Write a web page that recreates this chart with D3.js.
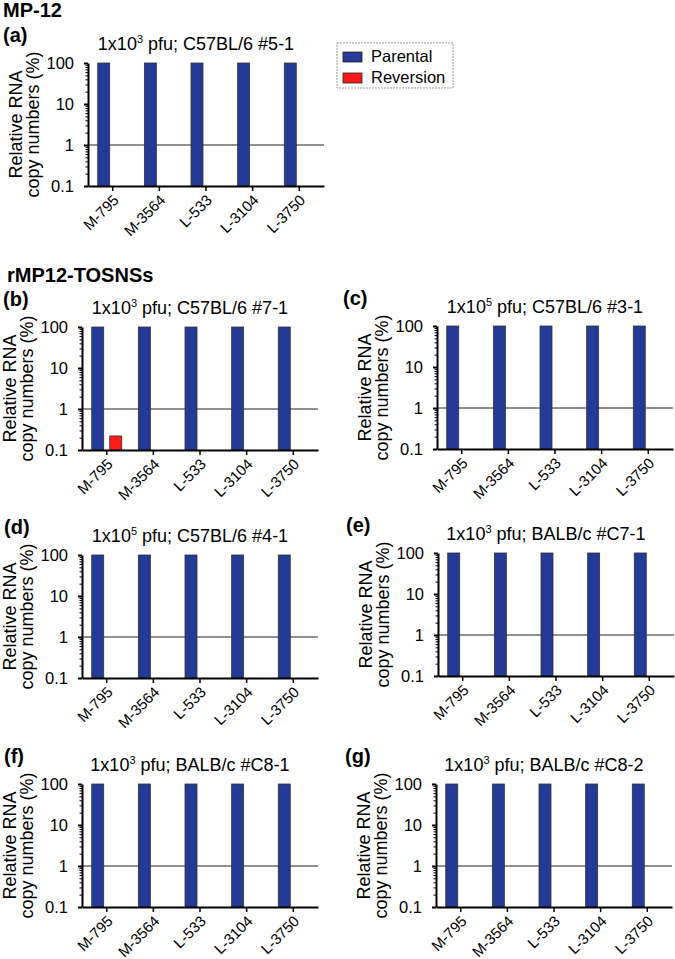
<!DOCTYPE html>
<html><head><meta charset="utf-8">
<script src="https://cdn.jsdelivr.net/npm/d3@7"></script>
<style>body{margin:0;background:#fff}svg{display:block}text{font-family:Arial,"Liberation Sans",Helvetica,sans-serif;fill:#000}</style>
</head><body>
<script>
const categories = ["M-795", "M-3564", "L-533", "L-3104", "L-3750"];
const panelIds = ["a", "b", "c", "d", "e", "f", "g"];
const doseExp = [3, 3, 5, 5, 3, 3, 3];
const hosts = ["C57BL/6 #5-1", "C57BL/6 #7-1", "C57BL/6 #3-1", "C57BL/6 #4-1", "BALB/c #C7-1", "BALB/c #C8-1", "BALB/c #C8-2"];
const parental = [
  [100, 100, 100, 100, 100],
  [100, 100, 100, 100, 100],
  [100, 100, 100, 100, 100],
  [100, 100, 100, 100, 100],
  [100, 100, 100, 100, 100],
  [100, 100, 100, 100, 100],
  [100, 100, 100, 100, 100]
];
const reversion = [
  [null, null, null, null, null],
  [0.22, null, null, null, null],
  [null, null, null, null, null],
  [null, null, null, null, null],
  [null, null, null, null, null],
  [null, null, null, null, null],
  [null, null, null, null, null]
];
const yTicks = [0.1, 1, 10, 100];
const refLine = 1;
const seriesNames = ["Parental", "Reversion"];
const groupHeadings = ["MP-12", "rMP12-TOSNSs"];

// layout
const layout = [
  {ax: 88, top: 63, lx: 3},
  {ax: 82, top: 327, lx: 3},
  {ax: 437, top: 326, lx: 343},
  {ax: 82, top: 555, lx: 4},
  {ax: 438, top: 553, lx: 346},
  {ax: 82, top: 784, lx: 4},
  {ax: 436, top: 784, lx: 345}
];
const PW = 236, PH = 123;
const BLUE = "#233b96", RED = "#ff1a1a";

const svg = d3.select("body").append("svg").attr("width", 675).attr("height", 959);

svg.append("text").attr("x", 3).attr("y", 17).attr("font-size", 20).attr("font-weight", "bold").text(groupHeadings[0]);
svg.append("text").attr("x", 7).attr("y", 282).attr("font-size", 20).attr("font-weight", "bold").text(groupHeadings[1]);

panelIds.forEach((id, i) => {
  const L = layout[i];
  const g = svg.append("g");
  const y = d3.scaleLog().domain([0.1, 100]).range([L.top + PH, L.top]);
  const x = d3.scaleBand().domain(categories).range([L.ax, L.ax + PW]).paddingInner(0).paddingOuter(0.03);
  const bottom = L.top + PH;

  // panel label
  g.append("text").attr("x", L.lx).attr("y", L.top - 21).attr("font-size", 20).attr("font-weight", "bold").text("(" + id + ")");
  // title
  const t = g.append("text").attr("x", L.ax + 108).attr("y", L.top - 13).attr("font-size", 18).attr("text-anchor", "middle");
  t.append("tspan").text("1x10");
  t.append("tspan").attr("font-size", 11).attr("dy", -7).text(doseExp[i]);
  t.append("tspan").attr("dy", 7).text(" pfu; " + hosts[i]);

  // reference line
  g.append("line").attr("x1", L.ax).attr("x2", L.ax + PW).attr("y1", y(refLine)).attr("y2", y(refLine))
    .attr("stroke", "#222").attr("stroke-width", 1);

  // bars
  const cx = c => x(c) + x.bandwidth() / 2;
  g.selectAll("rect.par").data(categories).join("rect")
    .attr("x", c => cx(c) - 15).attr("width", 12)
    .attr("y", (c, j) => y(parental[i][j])).attr("height", (c, j) => bottom - y(parental[i][j]))
    .attr("fill", BLUE).attr("stroke", "#333").attr("stroke-width", 0.8);
  g.selectAll("rect.rev").data(categories.filter((c, j) => reversion[i][j] != null)).join("rect")
    .attr("x", c => cx(c) + 3).attr("width", 12)
    .attr("y", c => y(reversion[i][categories.indexOf(c)])).attr("height", c => bottom - y(reversion[i][categories.indexOf(c)]))
    .attr("fill", RED).attr("stroke", "#333").attr("stroke-width", 0.8);

  // y minor ticks
  const minor = [];
  [0.1, 1, 10].forEach(d => { for (let k = 2; k <= 9; k++) minor.push(d * k); });
  const ym = g.append("g").attr("transform", `translate(${L.ax},0)`)
    .call(d3.axisLeft(y).tickValues(minor).tickSize(2.5).tickFormat(""));
  ym.select(".domain").remove();
  ym.selectAll("line").attr("stroke-width", 1);

  // y axis
  const ya = g.append("g").attr("transform", `translate(${L.ax},0)`)
    .call(d3.axisLeft(y).tickValues(yTicks).tickSize(4).tickSizeOuter(0).tickPadding(10).tickFormat(d => d < 1 ? "0.1" : String(d)));
  ya.select(".domain").attr("stroke-width", 2);
  ya.selectAll(".tick line").attr("stroke-width", 2);
  ya.selectAll("text").attr("font-size", 16.5).attr("font-family", "Arial, 'Liberation Sans', sans-serif").attr("dy", "0.36em");

  // x axis
  const xa = g.append("g").attr("transform", `translate(0,${bottom})`)
    .call(d3.axisBottom(x).tickSize(5).tickSizeOuter(0).tickPadding(4));
  xa.select(".domain").attr("stroke-width", 2);
  xa.selectAll(".tick line").attr("stroke-width", 1.5);
  xa.selectAll("text").attr("font-size", 15).attr("font-family", "Arial, 'Liberation Sans', sans-serif")
    .attr("text-anchor", "end").attr("dy", 0).attr("y", 0)
    .attr("transform", "translate(7,15) rotate(-45)");

  // y label
  const cyl = L.top + PH / 2;
  const yl = g.append("text").attr("transform", `translate(${L.ax - 66},${cyl}) rotate(-90)`)
    .attr("text-anchor", "middle").attr("font-size", 18);
  yl.append("tspan").attr("x", 0).attr("y", 0).text("Relative RNA");
  yl.append("tspan").attr("x", 0).attr("y", 16.5).text("copy numbers (%)");
});

// legend
const lg = svg.append("g").attr("transform", "translate(337,43)");
lg.append("rect").attr("width", 116).attr("height", 45).attr("fill", "none").attr("stroke", "#999").attr("stroke-dasharray", "2,1");
[BLUE, RED].forEach((c, k) => {
  lg.append("rect").attr("x", 6).attr("y", 9 + k * 21).attr("width", 19).attr("height", 10).attr("fill", c).attr("stroke", "#222").attr("stroke-width", 0.8);
  lg.append("text").attr("x", 34).attr("y", 19 + k * 21).attr("font-size", 16.5).text(seriesNames[k]);
});
</script>
</body></html>
